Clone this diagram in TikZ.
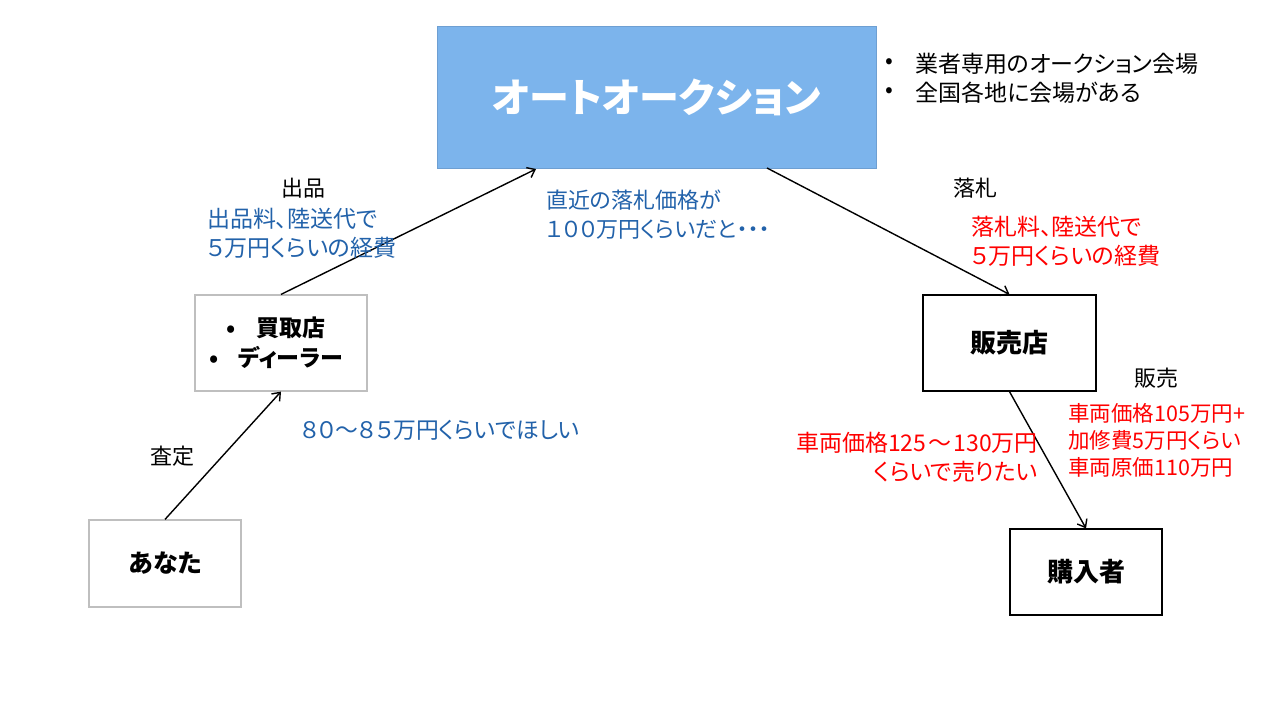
\documentclass[tikz,border=0pt]{standalone}
\usepackage{fontspec}
\setmainfont{Noto Sans CJK JP}[RawFeature={+palt}]
\usetikzlibrary{arrows.meta}
\definecolor{aucfill}{HTML}{7CB4EC}
\definecolor{aucline}{HTML}{6E9FD2}
\definecolor{memo}{HTML}{2262AA}
\definecolor{cost}{HTML}{FF0000}
\definecolor{lightline}{HTML}{BFBFBF}
\newcommand\fsz[2]{\fontsize{#1}{#2}\selectfont}
\begin{document}
\begin{tikzpicture}[x=1pt,y=-1pt,
  boxg/.style={draw=lightline,line width=1.2pt,fill=white,inner sep=0pt,font=\fsz{23}{30}\bfseries},
  boxk/.style={draw=black,line width=1.2pt,fill=white,inner sep=0pt,font=\fsz{26}{30}\bfseries},
  lbl/.style={inner sep=0pt,font=\fsz{23}{29}},
  conn/.style={line width=1.4pt,-{Straight Barb[length=7pt,width=11pt,line width=1.4pt]}}]
\useasboundingbox[fill=white] (0,0) rectangle (1280,720);
% boxes
\node[draw=aucline,line width=1pt,fill=aucfill,minimum width=439pt,minimum height=142pt,inner sep=0pt,
  font=\fsz{40}{44}\bfseries,text=white] (auc) at (656.5,97) {オートオークション};
\node[boxg,minimum width=172pt,minimum height=96pt,align=center] (kai) at (281,343)
  {\hspace*{-10pt}•\hspace{20pt}買取店\\\hspace*{-10pt}•\hspace{20pt}ディーラー};
\node[boxg,minimum width=152pt,minimum height=87pt,font=\fsz{25}{30}\bfseries] (you) at (165,563.5) {あなた};
\node[boxk,minimum width=173pt,minimum height=96pt] (shop) at (1009.5,343) {販売店};
\node[boxk,minimum width=152pt,minimum height=86pt] (buyer) at (1086,572) {購入者};
% connector ends on the auction box
\coordinate (aucin) at (536,169);
\coordinate (aucout) at (767,168);
% connectors
\draw[conn] (you.north) -- (kai.south);
\draw[conn] (kai.north) -- (aucin);
\draw[conn] (aucout) -- (shop.north);
\draw[conn] (shop.south) -- (buyer.north);
% labels
\node[lbl,font=\fsz{22}{29}] (l1) at (303,188) {出品};
\node[lbl,text=memo,anchor=west,align=left] (l2) at (207,233) {出品料、陸送代で\\５万円くらいの経費};
\node[lbl,font=\fsz{22}{29},text=memo,anchor=west,align=left] (l3) at (546,214.5) {直近の落札価格が\\１００万円くらいだと・・・};
\node[lbl,font=\fsz{22.8}{29},text=memo,anchor=west] (l4) at (301,430) {８０～８５万円くらいでほしい};
\node[lbl,font=\fsz{22}{29}] (l5) at (172,456) {査定};
\node[lbl,font=\fsz{22}{29}] (l6) at (975,188) {落札};
\node[lbl,text=cost,anchor=west,align=left] (l7) at (971,241.5) {落札料、陸送代で\\５万円くらいの経費};
\node[lbl,font=\fsz{22}{29}] (l8) at (1156,378) {販売};
\node[lbl,font=\fsz{21.5}{27},text=cost,anchor=west,align=left] (l9) at (1068,440) {車両価格105万円+\\加修費5万円くらい\\車両原価110万円};
\node[lbl,font=\fsz{23}{29},text=cost,anchor=east,align=right] (l10) at (1038,457.5) {車両価格125\kern2pt～\kern2pt130万円\\くらいで売りたい};
% bullets at top right
\node[lbl] (b1) at (889,64) {•};
\node[lbl] (b2) at (889,93) {•};
\node[lbl,anchor=west] (t1) at (915,64) {業者専用のオークション会場};
\node[lbl,anchor=west] (t2) at (915,93) {全国各地に会場がある};
\end{tikzpicture}
\end{document}
